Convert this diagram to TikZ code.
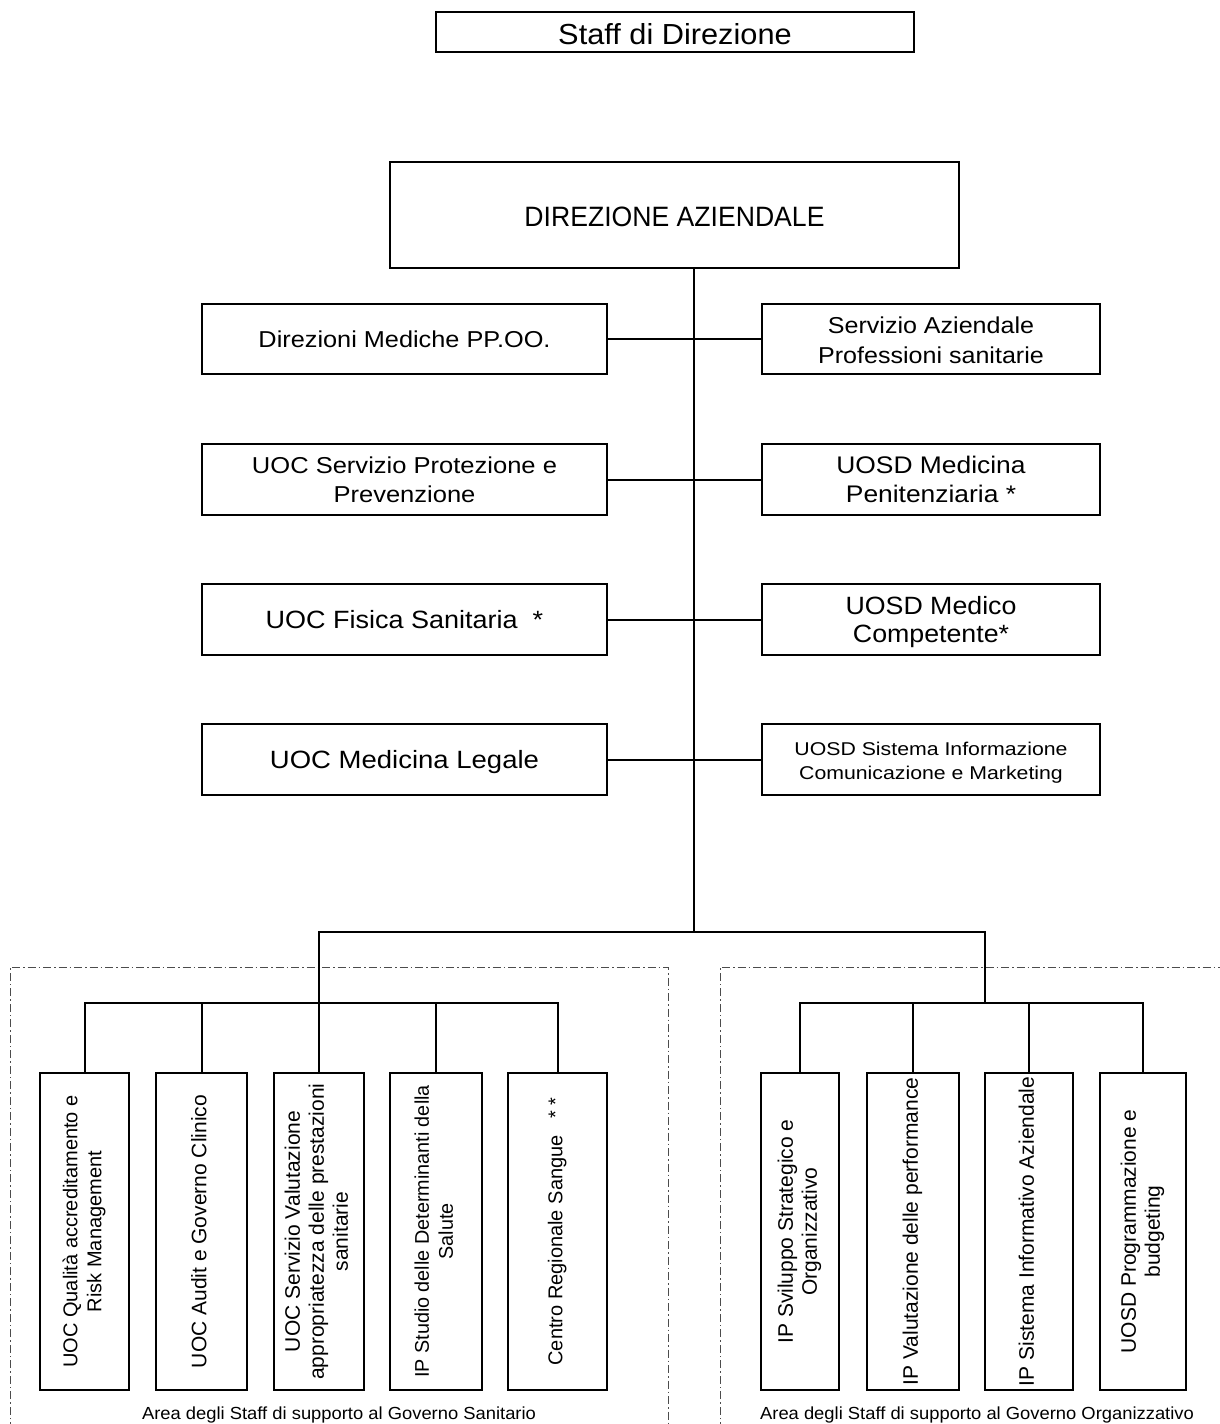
\documentclass[tikz,border=0pt]{standalone}
\usepackage{fontspec}
\setmainfont{Liberation Sans}
\usepackage{graphicx}
\newcommand{\tx}[4]{\scalebox{#1}[1]{\fontsize{#2}{#3}\selectfont\begin{tabular}{@{}c@{}}#4\end{tabular}}}
\newcommand{\low}[2]{\raisebox{-#1}[\height][\depth]{#2}}
\newcommand{\htx}[4]{\low{3pt}{\tx{#1}{#2}{#3}{#4}}}
\newcommand{\vtx}[2]{\rotatebox{90}{\tx{1}{#1}{24}{#2}}}
\begin{document}
\begin{tikzpicture}[x=1pt,y=-1pt,
  box/.style={draw, line width=2pt, inner sep=0pt, outer sep=0pt},
  conn/.style={line width=2pt},
  frame/.style={draw=black!70, line width=1pt, dash pattern=on 8pt off 3pt on 1.5pt off 3pt},
  lbl/.style={inner sep=0pt}]
\clip (0,0) rectangle (1220,1424);
% dashed area frames
\draw[frame] (10,1430) -- (10,967) -- (668,967) -- (668,1430);
\draw[frame] (720,1430) -- (720,967) -- (1225,967);
% top boxes
\node[box, minimum width=478, minimum height=40] (staff) at (675,32) {\low{6pt}{\tx{1.06}{29}{32}{Staff di Direzione}}};
\node[box, minimum width=569, minimum height=106] (dir) at (674.5,215) {\low{5pt}{\tx{0.95}{28}{32}{DIREZIONE AZIENDALE}}};
% side boxes
\node[box, minimum width=405, minimum height=70] (l1) at (404.5,339) {\htx{1.1}{23}{28}{Direzioni Mediche PP.OO.}};
\node[box, minimum width=338, minimum height=70] (r1) at (931,339) {\htx{1.09}{23}{30}{Servizio Aziendale\\Professioni sanitarie}};
\node[box, minimum width=405, minimum height=71] (l2) at (404.5,479.5) {\htx{1.11}{23}{29}{UOC Servizio Protezione e\\Prevenzione}};
\node[box, minimum width=338, minimum height=71] (r2) at (931,479.5) {\htx{1.1}{24}{29}{UOSD Medicina\\Penitenziaria *}};
\node[box, minimum width=405, minimum height=71] (l3) at (404.5,619.5) {\htx{1.08}{25}{28}{UOC Fisica Sanitaria\ \ *}};
\node[box, minimum width=338, minimum height=71] (r3) at (931,619.5) {\htx{1.07}{25}{28}{UOSD Medico\\Competente*}};
\node[box, minimum width=405, minimum height=71] (l4) at (404.5,759.5) {\htx{1.1}{25}{28}{UOC Medicina Legale}};
\node[box, minimum width=338, minimum height=71] (r4) at (931,759.5) {\htx{1.15}{18.5}{24}{UOSD Sistema Informazione\\Comunicazione e Marketing}};
% vertical boxes
\node[box, minimum width=89, minimum height=317] (v1) at (84.5,1231.5) {\vtx{20}{UOC Qualità accreditamento e\\Risk Management}};
\node[box, minimum width=91, minimum height=317] (v2) at (201.5,1231.5) {\vtx{21}{UOC Audit e Governo Clinico}};
\node[box, minimum width=90, minimum height=317] (v3) at (319,1231.5) {\vtx{21}{UOC Servizio Valutazione\\appropriatezza delle prestazioni\\sanitarie}};
\node[box, minimum width=92, minimum height=317] (v4) at (436,1231.5) {\vtx{19.8}{IP Studio delle Determinanti della\\Salute}};
\node[box, minimum width=99, minimum height=317] (v5) at (557.5,1231.5) {\vtx{20}{Centro Regionale Sangue\ \ \ *\ *}};
\node[box, minimum width=78, minimum height=317] (v6) at (800,1231.5) {\vtx{21}{IP Sviluppo Strategico e\\Organizzativo}};
\node[box, minimum width=92, minimum height=317] (v7) at (913,1231.5) {\vtx{21}{IP Valutazione delle performance}};
\node[box, minimum width=88, minimum height=317] (v8) at (1029,1231.5) {\vtx{21}{IP Sistema Informativo Aziendale}};
\node[box, minimum width=86, minimum height=317] (v9) at (1143,1231.5) {\vtx{21}{UOSD Programmazione e\\budgeting}};
% labels
\node[lbl] (lab1) at (339,1415) {\tx{1.05}{17.5}{20}{Area degli Staff di supporto al Governo Sanitario}};
\node[lbl] (lab2) at (977,1415) {\tx{1.05}{17.5}{20}{Area degli Staff di supporto al Governo Organizzativo}};
% connectors
\coordinate (split) at (694,932);
\coordinate (rbus) at (985,1003);
\draw[conn] (dir.south -| split) -- (split);
\draw[conn] (l1.east) -- (r1.west);
\draw[conn] (l2.east) -- (r2.west);
\draw[conn] (l3.east) -- (r3.west);
\draw[conn] (l4.east) -- (r4.west);
\draw[conn] (split) -| (v3.north);
\draw[conn] (split) -| (rbus);
\draw[conn] (v1.north) -- ++(0,-70) -| (v5.north);
\draw[conn] (v2.north) -- ++(0,-70);
\draw[conn] (v4.north) -- ++(0,-70);
\draw[conn] (v6.north) -- ++(0,-70) -| (v9.north);
\draw[conn] (v7.north) -- ++(0,-70);
\draw[conn] (v8.north) -- ++(0,-70);
\end{tikzpicture}
\end{document}
